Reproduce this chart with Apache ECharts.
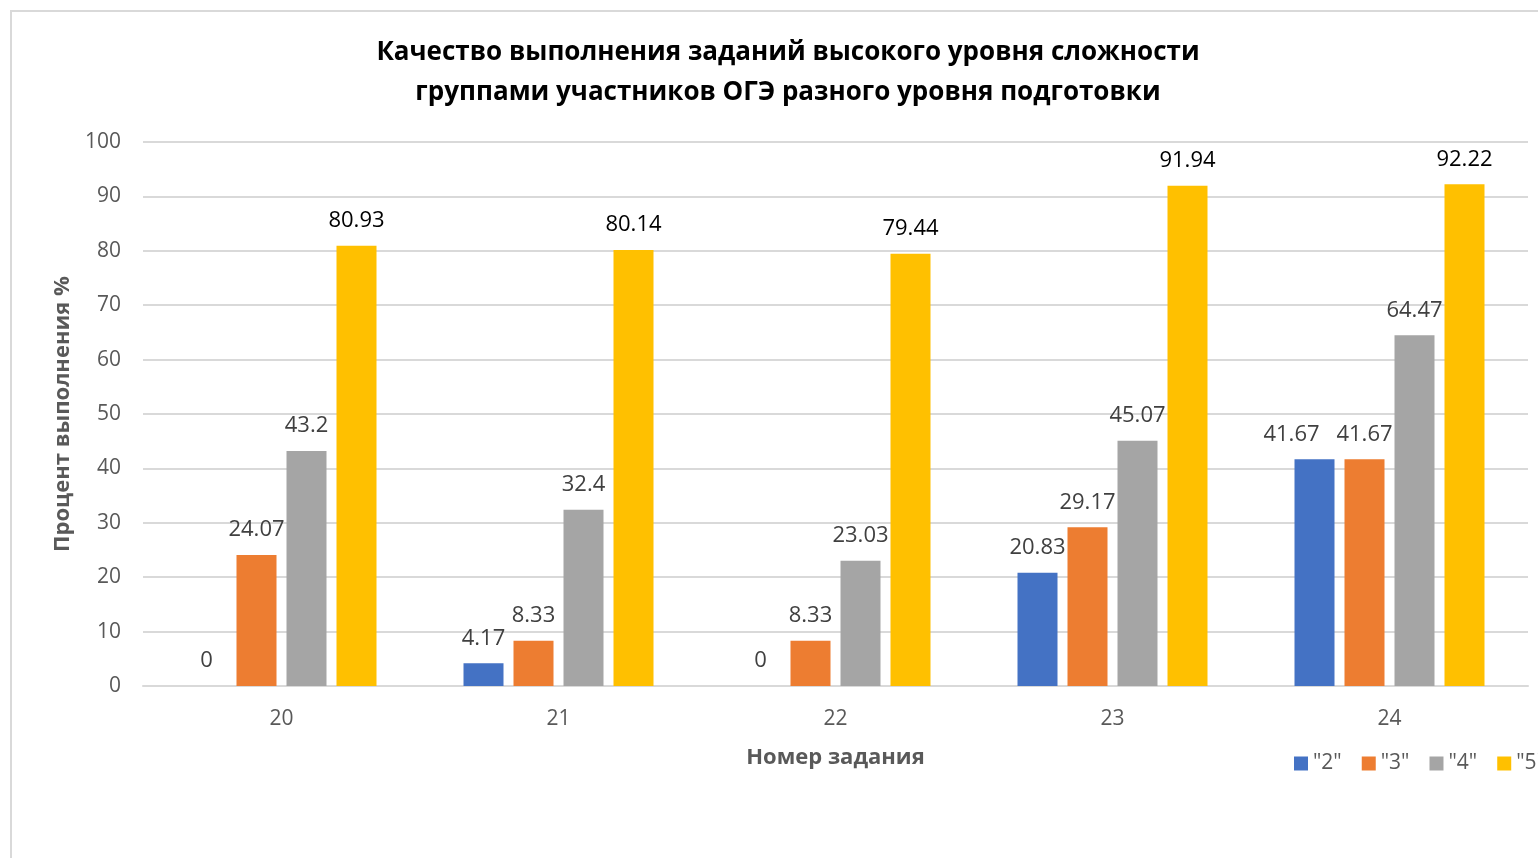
<!DOCTYPE html>
<html>
<head>
<meta charset="utf-8">
<script src="https://cdn.jsdelivr.net/npm/echarts@6/dist/echarts.min.js"></script>
<style>
  html, body { margin: 0; padding: 0; width: 1538px; height: 858px; overflow: hidden; background: #fff; }
  #box { position: absolute; left: 10px; top: 10px; width: 1600px; height: 900px;
         border: 2px solid #d9d9d9; box-sizing: border-box; }
  #chart { position: absolute; left: -2px; top: -2px; width: 1600px; height: 900px; }
</style>
</head>
<body>
<div id="box"><div id="chart"></div></div>
<script>
// номера заданий
var tasks = ['20', '21', '22', '23', '24'];
// группы участников
var groups = ['"2"', '"3"', '"4"', '"5"'];
var g2 = [0, 4.17, 0, 20.83, 41.67];
var g3 = [24.07, 8.33, 8.33, 29.17, 41.67];
var g4 = [43.2, 32.4, 23.03, 45.07, 64.47];
var g5 = [80.93, 80.14, 79.44, 91.94, 92.22];
var yTicks = [0, 10, 20, 30, 40, 50, 60, 70, 80, 90, 100];

var colors = ['#4472C4', '#ED7D31', '#A5A5A5', '#FFC000'];
var font = '"Open Sans", "Noto Sans", sans-serif';

function mkSeries(name, data, color, labelColor) {
    return {
        name: name,
        type: 'bar',
        data: data.slice(),
        barWidth: 40,
        barGap: '25%',
        itemStyle: { color: color },
        label: {
            show: true,
            position: 'top',
            distance: 14,
            fontFamily: font,
            fontSize: 22,
            color: labelColor
        }
    };
}

var series = [
    mkSeries(groups[0], g2, colors[0], '#404040'),
    mkSeries(groups[1], g3, colors[1], '#404040'),
    mkSeries(groups[2], g4, colors[2], '#404040'),
    mkSeries(groups[3], g5, colors[3], '#000000')
];
// подпись первой группы у задания 24 сдвинута влево
series[0].data[4] = { value: g2[4], label: { offset: [-23, 0] } };

var myChart = echarts.init(document.getElementById('chart'));

var option = {
    animation: false,
    color: colors,
    title: {
        text: 'Качество выполнения заданий высокого уровня сложности\nгруппами участников ОГЭ разного уровня подготовки',
        left: 773,
        top: 18,
        textAlign: 'center',
        textStyle: {
            fontFamily: font,
            fontSize: 26,
            fontWeight: 'bold',
            color: '#000',
            lineHeight: 40
        }
    },
    legend: {
        data: groups,
        left: 1279,
        top: 738,
        itemWidth: 14,
        itemHeight: 14,
        itemGap: 20,
        icon: 'rect',
        textStyle: { fontFamily: font, fontSize: 21, color: '#595959' }
    },
    grid: {
        left: 133,
        top: 132,
        width: 1385,
        height: 544
    },
    xAxis: {
        type: 'category',
        data: tasks,
        name: 'Номер задания',
        nameLocation: 'middle',
        nameGap: 61,
        nameTextStyle: { fontFamily: font, fontSize: 22, fontWeight: 'bold', color: '#595959' },
        axisLine: { lineStyle: { color: '#d9d9d9', width: 2 } },
        axisTick: { show: false },
        axisLabel: { fontFamily: font, fontSize: 21, color: '#595959', margin: 23 }
    },
    yAxis: {
        type: 'value',
        min: 0,
        max: 100,
        interval: 10,
        name: 'Процент выполнения %',
        nameLocation: 'middle',
        nameGap: 64,
        nameTextStyle: { fontFamily: font, fontSize: 22, fontWeight: 'bold', color: '#595959' },
        axisLine: { show: false },
        axisTick: { show: false },
        splitLine: { lineStyle: { color: '#d9d9d9', width: 2 } },
        axisLabel: {
            fontFamily: font, fontSize: 21, color: '#595959', margin: 22,
            formatter: function (v) { return yTicks.indexOf(v) >= 0 ? String(v) : ''; }
        }
    },
    series: series
};

myChart.setOption(option);
</script>
</body>
</html>
